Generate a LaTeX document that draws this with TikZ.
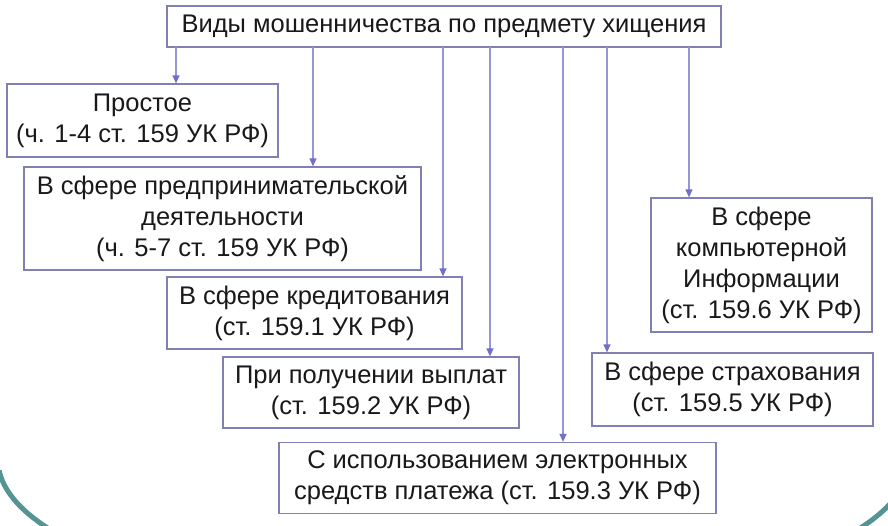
\documentclass[tikz,border=0pt]{standalone}
\usepackage{fontspec}
\setmainfont{Liberation Sans}
\usepackage{xcolor}
\usetikzlibrary{arrows.meta,positioning}
\definecolor{boxline}{RGB}{128,128,178}
\definecolor{linkline}{RGB}{150,150,212}
\definecolor{tiphead}{RGB}{112,112,200}
\definecolor{arcteal}{RGB}{84,148,146}

\begin{document}
\begin{tikzpicture}[
  x=1pt,y=-1pt,
  font=\fontsize{25.5}{31}\selectfont,
  block/.style={draw=boxline,line width=1.2pt,inner sep=0pt,align=center,text=black!90,fill=white},
  link/.style={draw=linkline,line width=1.2pt,-{Triangle[length=8pt,width=7pt,color=tiphead]}},
  rim/.style={draw=arcteal,line width=5pt}
]
\useasboundingbox (0,0) rectangle (888,525);
\begin{scope}
\clip (0,0) rectangle (888,525);
\draw[rim] (454,460) ++(176:456 and 150) arc[start angle=176,end angle=140,x radius=456,y radius=150];
\draw[rim] (454,460) ++(4:456 and 150) arc[start angle=4,end angle=40,x radius=456,y radius=150];
\end{scope}

\node[block,minimum width=554,minimum height=41] (title) at (444,26.5) {Виды мошенничества по предмету хищения};
\node[block,minimum width=271,minimum height=73] (simple) at (142.5,120.5) {Простое\\(ч. 1-4 ст. 159 УК РФ)};
\node[block,minimum width=397,minimum height=103] (business) at (222.5,218.5) {В сфере предпринимательской\\деятельности\\(ч. 5-7 ст. 159 УК РФ)};
\node[block,minimum width=295,minimum height=72] (credit) at (314.5,313) {В сфере кредитования\\(ст. 159.1 УК РФ)};
\node[block,minimum width=296,minimum height=71] (payout) at (371,392.5) {При получении выплат\\(ст. 159.2 УК РФ)};
\node[block,minimum width=437,minimum height=71] (epay) at (497.5,478) {С использованием электронных\\средств платежа (ст. 159.3 УК РФ)};
\node[block,minimum width=281,minimum height=73] (insure) at (732.5,389.5) {В сфере страхования\\(ст. 159.5 УК РФ)};
\node[block,minimum width=221,minimum height=134] (comp) at (761.5,265) {В сфере\\компьютерной\\Информации\\(ст. 159.6 УК РФ)};

\coordinate (p1) at (176,47);
\coordinate (p2) at (313,47);
\coordinate (p3) at (443,47);
\coordinate (p4) at (490,47);
\coordinate (p5) at (563,47);
\coordinate (p6) at (607,47);
\coordinate (p7) at (689,47);

\draw[link] (p1) -- (p1 |- simple.north);
\draw[link] (p2) -- (p2 |- business.north);
\draw[link] (p3) -- (p3 |- credit.north);
\draw[link] (p4) -- (p4 |- payout.north);
\draw[link] (p5) -- (p5 |- epay.north);
\draw[link] (p6) -- (p6 |- insure.north);
\draw[link] (p7) -- (p7 |- comp.north);
\end{tikzpicture}
\end{document}
